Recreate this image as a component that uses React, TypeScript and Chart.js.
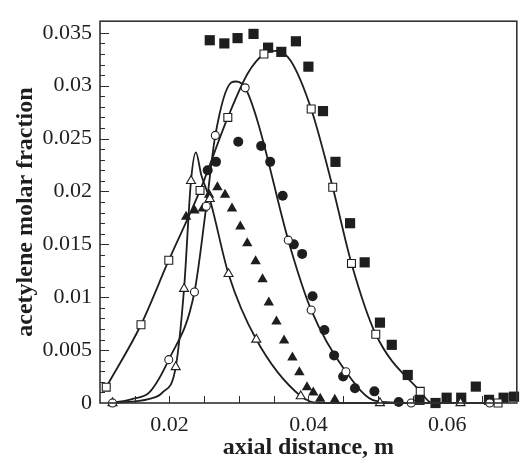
import React, { useEffect, useRef } from "react";
import { Chart, registerables } from "chart.js";

Chart.register(...registerables);

// Model curves (lines)
const sqCurveX = [0.0109, 0.0159, 0.0199, 0.0244, 0.0284, 0.0313, 0.0336, 0.0353, 0.0374, 0.0404, 0.0435, 0.0462, 0.0497, 0.0561, 0.0578, 0.0619, 0.0673];
const sqCurveY = [0.0015, 0.0074, 0.0135, 0.0201, 0.0270, 0.0312, 0.0330, 0.0333, 0.0324, 0.0278, 0.0204, 0.0132, 0.0065, 0.0011, 0.0, 0.0, 0.0];
const ciCurveX = [0.0118, 0.0147, 0.0171, 0.0199, 0.0236, 0.0253, 0.0266, 0.0289, 0.0296, 0.0309, 0.0327, 0.0371, 0.0404, 0.0454, 0.0497, 0.0548, 0.0661];
const ciCurveY = [0.0, 0.0004, 0.0010, 0.0041, 0.0105, 0.0186, 0.0253, 0.0303, 0.0304, 0.0298, 0.0266, 0.0154, 0.0088, 0.00295, 0.0002, 0.0, 0.0];
const trCurveX = [0.0118, 0.0171, 0.0190, 0.0209, 0.0221, 0.0231, 0.0238, 0.0246, 0.0258, 0.0285, 0.0325, 0.0389, 0.0417, 0.0503, 0.0619];
const trCurveY = [0.0, 0.0004, 0.0010, 0.0034, 0.0108, 0.0210, 0.0237, 0.0215, 0.0193, 0.0122, 0.0060, 0.00065, 0.0, 0.0, 0.0];

// Open markers (on curves)
const sqX = [0.0109, 0.0159, 0.0199, 0.0244, 0.0284, 0.0336, 0.0404, 0.0435, 0.0462, 0.0497, 0.0561, 0.0673];
const sqY = [0.0015, 0.0074, 0.0135, 0.0201, 0.0270, 0.0330, 0.0278, 0.0204, 0.0132, 0.0065, 0.0011, 0.0];
const ciX = [0.0118, 0.0199, 0.0236, 0.0253, 0.0266, 0.0309, 0.0371, 0.0404, 0.0454, 0.0548, 0.0661];
const ciY = [0.0, 0.0041, 0.0105, 0.0186, 0.0253, 0.0298, 0.0154, 0.0088, 0.00295, 0.0, 0.0];
const trX = [0.0118, 0.0209, 0.0221, 0.0231, 0.0258, 0.0285, 0.0325, 0.0389, 0.0503, 0.0619];
const trY = [0.0, 0.0034, 0.0108, 0.0210, 0.0193, 0.0122, 0.0060, 0.00065, 0.0, 0.0];

// Filled markers
const fsqX = [0.0258, 0.0279, 0.0298, 0.0321, 0.0342, 0.0361, 0.0382, 0.0400, 0.0421, 0.0439, 0.0460, 0.0481, 0.0503, 0.0520, 0.0543, 0.0560, 0.0583, 0.0599, 0.0620, 0.0641, 0.0660, 0.0681, 0.0696];
const fsqY = [0.0343, 0.0340, 0.0345, 0.0349, 0.0336, 0.0332, 0.0342, 0.0318, 0.0276, 0.0228, 0.0170, 0.0133, 0.0076, 0.0055, 0.00265, 0.0003, 0.0, 0.0005, 0.0005, 0.00155, 0.0003, 0.0005, 0.0006];
const fciX = [0.0255, 0.0267, 0.0299, 0.0332, 0.0345, 0.0363, 0.0379, 0.0391, 0.0406, 0.0423, 0.0437, 0.0450, 0.0467, 0.0495, 0.0530];
const fciY = [0.0220, 0.0228, 0.0247, 0.0243, 0.0228, 0.0196, 0.0150, 0.0141, 0.0101, 0.0069, 0.0045, 0.0025, 0.0014, 0.0011, 0.0001];
const ftrX = [0.0224, 0.0236, 0.0248, 0.0257, 0.0269, 0.0280, 0.0290, 0.0302, 0.0312, 0.0324, 0.0334, 0.0343, 0.0354, 0.0365, 0.0377, 0.0387, 0.0398, 0.0407, 0.0417, 0.0438];
const ftrY = [0.0176, 0.0182, 0.0184, 0.0197, 0.0204, 0.0197, 0.0184, 0.0167, 0.0151, 0.0134, 0.0117, 0.0095, 0.0077, 0.0059, 0.0043, 0.0029, 0.0015, 0.0010, 0.0004, 0.0003];

const xLabels = [0.02, 0.04, 0.06];
const xTitle = "axial distance, m";
const yTitle = "acetylene molar fraction";

const INK = "#1e1e1e";
const FONT = "'Liberation Serif', 'Times New Roman', serif";

const pts = (xs: number[], ys: number[]) => xs.map((x, i) => ({ x, y: ys[i] }));

const curve = (xs: number[], ys: number[]) => ({
  data: pts(xs, ys),
  showLine: true,
  borderColor: INK,
  borderWidth: 1.8,
  pointRadius: 0,
  cubicInterpolationMode: "monotone" as const,
  fill: false,
  order: 10,
});

const marker = (xs: number[], ys: number[], style: string, r: number, filled: boolean) => ({
  data: pts(xs, ys),
  showLine: false,
  pointStyle: style,
  pointRadius: r,
  pointBackgroundColor: filled ? INK : "#ffffff",
  pointBorderColor: INK,
  pointBorderWidth: filled ? 0 : 1.1,
  order: filled ? 5 : 0,
});

const framePlugin = {
  id: "frameTicks",
  afterDraw(chart: any) {
    const { ctx, chartArea } = chart;
    const xs = chart.scales.x;
    const ys = chart.scales.y;
    ctx.save();
    ctx.strokeStyle = "#2a2a2a";
    ctx.lineWidth = 1;
    // x ticks every 0.005 (inward)
    for (let i = 3; i <= 13; i++) {
      const v = i * 0.005;
      const px = Math.round(xs.getPixelForValue(v)) + 0.5;
      ctx.beginPath();
      ctx.moveTo(px, chartArea.bottom);
      ctx.lineTo(px, chartArea.bottom - 7);
      ctx.stroke();
    }
    // y ticks every 0.001, major every 0.005
    for (let i = 1; i <= 35; i++) {
      const v = i * 0.001;
      const py = Math.round(ys.getPixelForValue(v)) + 0.5;
      const len = i % 5 === 0 ? 9 : 5;
      ctx.beginPath();
      ctx.moveTo(chartArea.left, py);
      ctx.lineTo(chartArea.left + len, py);
      ctx.stroke();
    }
    // frame
    ctx.strokeStyle = "#333333";
    ctx.lineWidth = 1.6;
    ctx.strokeRect(chartArea.left, chartArea.top, chartArea.right - chartArea.left, chartArea.bottom - chartArea.top);
    ctx.restore();
  },
};

export default function App() {
  const ref = useRef<HTMLCanvasElement | null>(null);

  useEffect(() => {
    document.body.style.margin = "0";
    const canvas = ref.current!;
    const chart = new Chart(canvas, {
      type: "scatter",
      data: {
        datasets: [
          marker(sqX, sqY, "rect", 5.6, false),
          marker(ciX, ciY, "circle", 4, false),
          marker(trX, trY, "triangle", 5.2, false),
          marker(fsqX, fsqY, "rect", 7.2, true),
          marker(fciX, fciY, "circle", 5, true),
          marker(ftrX, ftrY, "triangle", 6, true),
          curve(sqCurveX, sqCurveY),
          curve(ciCurveX, ciCurveY),
          curve(trCurveX, trCurveY),
        ] as any,
      },
      options: {
        responsive: false,
        animation: false,
        clip: false as any,
        layout: { padding: { left: 0, top: 8, right: 1, bottom: 0 } },
        plugins: { legend: { display: false }, tooltip: { enabled: false } },
        scales: {
          x: {
            type: "linear",
            min: 0.01,
            max: 0.07,
            grid: { display: false, drawTicks: false },
            border: { display: false },
            afterFit: (s: any) => { s.height = 61; },
            afterBuildTicks: (s: any) => { s.ticks = xLabels.map((v) => ({ value: v })); },
            ticks: {
              color: INK,
              padding: 9,
              font: { family: FONT, size: 22 },
              callback: (v: any) => String(Number(v)),
            },
            title: {
              display: true,
              text: xTitle,
              color: INK,
              font: { family: FONT, size: 24, weight: "bold" },
              padding: { top: 0, bottom: 2 },
            },
          },
          y: {
            type: "linear",
            min: 0,
            max: 0.0361,
            grid: { display: false, drawTicks: false },
            border: { display: false },
            afterFit: (s: any) => { s.width = 100; },
            afterBuildTicks: (s: any) => {
              s.ticks = [0, 0.005, 0.01, 0.015, 0.02, 0.025, 0.03, 0.035].map((v) => ({ value: v }));
            },
            ticks: {
              color: INK,
              padding: 8,
              font: { family: FONT, size: 22 },
              callback: (v: any) => String(Number(Number(v).toFixed(3))),
            },
            title: {
              display: true,
              text: yTitle,
              color: INK,
              font: { family: FONT, size: 24, weight: "bold" },
              padding: { top: 11, bottom: 0 },
            },
          },
        },
      },
      plugins: [framePlugin],
    });
    return () => chart.destroy();
  }, []);

  return (
    <div style={{ width: 524, height: 464, background: "#fff" }}>
      <canvas ref={ref} width={524} height={464} style={{ display: "block" }} />
    </div>
  );
}
